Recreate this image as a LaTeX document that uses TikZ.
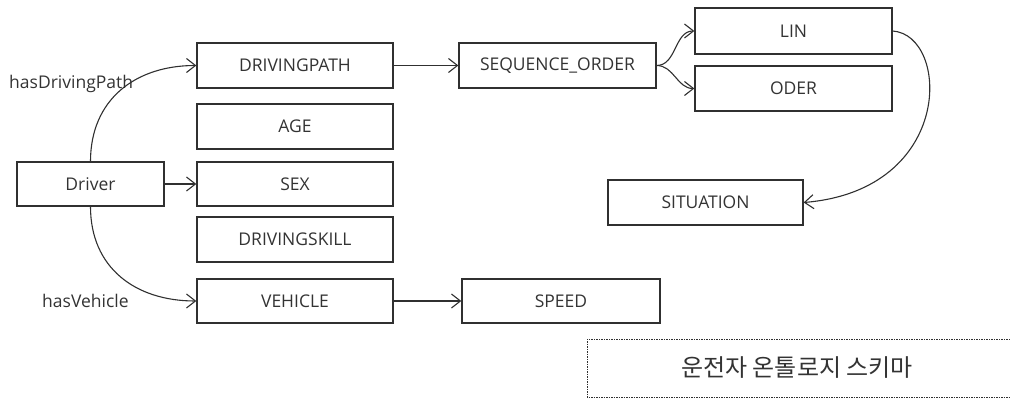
\documentclass[tikz,border=0pt]{standalone}
\usepackage{fontspec}
\setmainfont{Open Sans}
\newfontfamily\krfont{Noto Sans CJK KR}
\usetikzlibrary{arrows.meta}
\definecolor{linec}{HTML}{303030}
\definecolor{textc}{HTML}{333333}
\tikzset{
  box/.style={draw=linec, line width=1.3pt, minimum height=45pt, inner sep=0pt, text=textc, font=\fontsize{17.5}{21}\selectfont},
  lbl/.style={text=textc, font=\fontsize{17.5}{21}\selectfont, inner sep=0pt, anchor=west},
  conn/.style={draw=linec, line width=1.1pt, -{Straight Barb[length=9pt,width=14pt]}},
}
\begin{document}
\begin{tikzpicture}[x=1pt,y=1pt]
\useasboundingbox (0,0) rectangle (1010,-398);
\node[box, minimum width=147pt, minimum height=44pt] (driver) at (90.5,-184) {Driver};
\node[box, minimum width=196pt] (dp) at (295,-65.5) {DRIVINGPATH};
\node[box, minimum width=196pt] (age) at (295,-126.5) {AGE};
\node[box, minimum width=196pt, minimum height=44pt] (sex) at (295,-184) {SEX};
\node[box, minimum width=196pt] (skill) at (295,-239.5) {DRIVINGSKILL};
\node[box, minimum width=196pt, minimum height=44pt] (veh) at (295,-301) {VEHICLE};
\node[box, minimum width=198pt, minimum height=44pt] (speed) at (561,-301) {SPEED};
\node[box, minimum width=197pt] (seq) at (557.5,-65.5) {SEQUENCE\_ORDER};
\node[box, minimum width=197pt, minimum height=46pt] (lin) at (793.5,-31) {LIN};
\node[box, minimum width=197pt] (oder) at (793.5,-88.5) {ODER};
\node[box, minimum width=195pt] (sit) at (705.5,-202.5) {SITUATION};
\node[lbl] (lpath) at (9,-84) {hasDrivingPath};
\node[lbl] (lveh) at (42,-301) {hasVehicle};
\draw[draw=linec, line width=0.8pt, dash pattern=on 1.5pt off 1pt] (1010,-339) -- (587,-339) -- (587,-397) -- (1010,-397);
\node[text=textc, font=\krfont\fontsize{24}{28}\selectfont, inner sep=0pt] (title) at (797,-368) {운전자 온톨로지 스키마};
\draw[conn] (driver.north) to[out=90,in=180,looseness=1.1] (dp.west);
\draw[conn] (driver.south) to[out=-90,in=180,looseness=1.1] (veh.west);
\draw[conn] (driver.east) -- (sex.west);
\draw[conn] (dp.east) -- (seq.west);
\draw[conn] (veh.east) -- (speed.west);
\draw[conn] (seq.east) to[out=0,in=180] (lin.west);
\draw[conn] (seq.east) to[out=0,in=180] (oder.west);
\draw[conn] (lin.east) .. controls (950,-35) and (955,-190) .. (sit.east);
\end{tikzpicture}
\end{document}
